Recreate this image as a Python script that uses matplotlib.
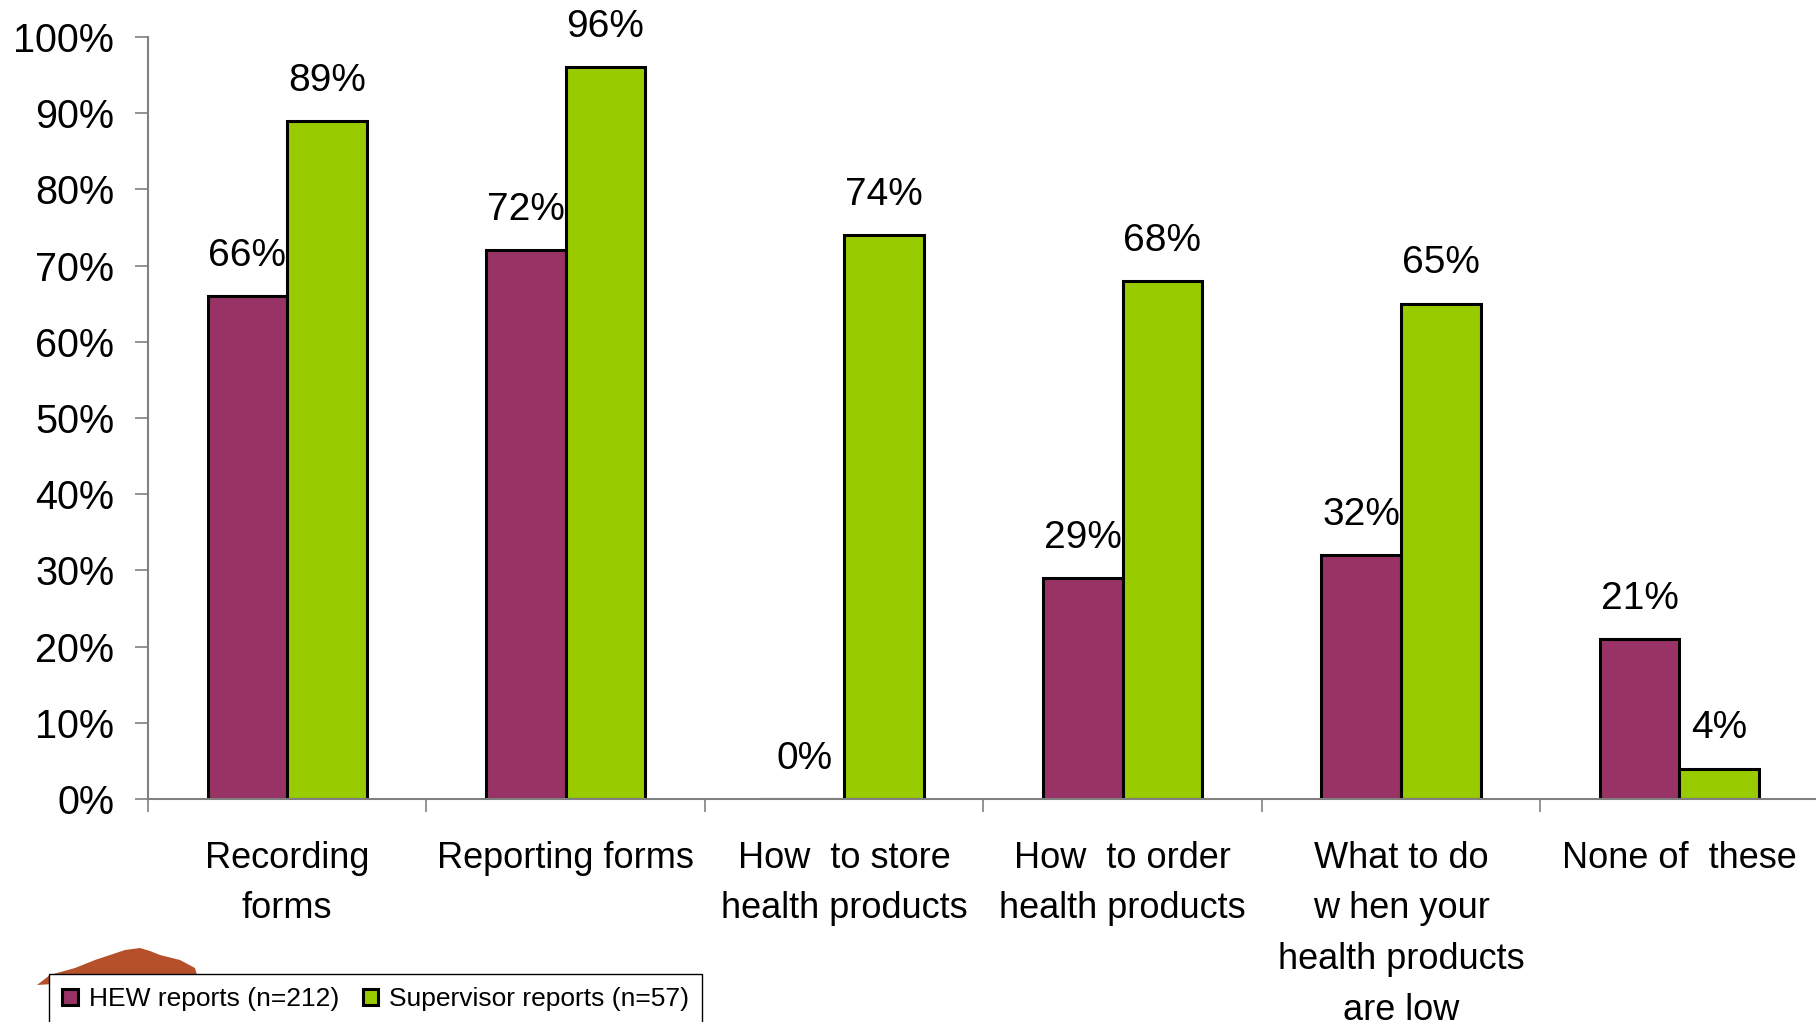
import numpy as np
import matplotlib.pyplot as plt
from matplotlib.patches import Polygon

plt.rcParams['font.family'] = ['Liberation Sans', 'DejaVu Sans']

categories = ['Recording\nforms', 'Reporting forms', 'How  to store\nhealth products',
              'How  to order\nhealth products', 'What to do\nw hen your\nhealth products\nare low',
              'None of  these']
hew = [66, 72, 0, 29, 32, 21]
supervisor = [89, 96, 74, 68, 65, 4]
series_names = ['HEW reports (n=212)', 'Supervisor reports (n=57)']
yticks = [0, 10, 20, 30, 40, 50, 60, 70, 80, 90, 100]

W, H = 1816, 1022
fig = plt.figure(figsize=(W / 100, H / 100), dpi=100)

# bits of a tree logo peeking out behind the legend
canopy = [(37, 985), (50, 975), (75, 968), (95, 960), (110, 955), (125, 950), (140, 948),
          (150, 951), (160, 955), (180, 960), (195, 968), (197, 975), (37, 985)]
fig.patches.append(Polygon([(px / W, 1 - py / H) for px, py in canopy], closed=True,
                           transform=fig.transFigure, facecolor='#B5502A', edgecolor='none'))

ax = fig.add_axes([148 / W, 0.2182, 0.92, 0.7456])

x = np.arange(len(categories))
w = 0.286
b1 = ax.bar(x - w / 2, hew, w, color='#993366', edgecolor='black', linewidth=2.2,
            label=series_names[0])
b2 = ax.bar(x + w / 2, supervisor, w, color='#99CC00', edgecolor='black', linewidth=2.2,
            label=series_names[1])

for bars, vals in [(b1, hew), (b2, supervisor)]:
    for rect, v in zip(bars, vals):
        ax.annotate('%d%%' % v, (rect.get_x() + rect.get_width() / 2, rect.get_height()),
                    xytext=(0, 16), textcoords='offset points', ha='center', va='bottom',
                    fontsize=28)

ax.set_xlim(-0.5, len(categories) - 0.5)
ax.set_ylim(0, 100)
ax.set_yticks(yticks)
ax.set_yticklabels(['%d%%' % t for t in yticks], fontsize=28.5)

# boundary ticks without labels, labels on the centers
ax.set_xticks(np.arange(len(categories)) - 0.5)
ax.set_xticklabels([])
ax.set_xticks(x, minor=True)
ax.set_xticklabels(categories, minor=True, fontsize=26, linespacing=1.58)
ax.tick_params(axis='x', which='minor', length=0, pad=30)
ax.tick_params(axis='x', which='major', length=9, width=1.2, color='#808080', direction='out')
ax.tick_params(axis='y', length=9.4, width=1.2, color='#808080', pad=15)

for s in ['top', 'right']:
    ax.spines[s].set_visible(False)
for s in ['left', 'bottom']:
    ax.spines[s].set_color('#808080')
    ax.spines[s].set_linewidth(1.5)

leg = fig.legend(handles=[b1, b2], loc='upper left', bbox_to_anchor=(49 / W, 1 - 974 / H),
                 ncol=2, fontsize=19, frameon=True, fancybox=False, edgecolor='black',
                 handlelength=0.6, handleheight=0.6, handletextpad=0.4, columnspacing=0.9,
                 borderpad=0.5, borderaxespad=0, framealpha=1)
leg.get_frame().set_linewidth(1.0)

fig.savefig('out.png', dpi=100)
